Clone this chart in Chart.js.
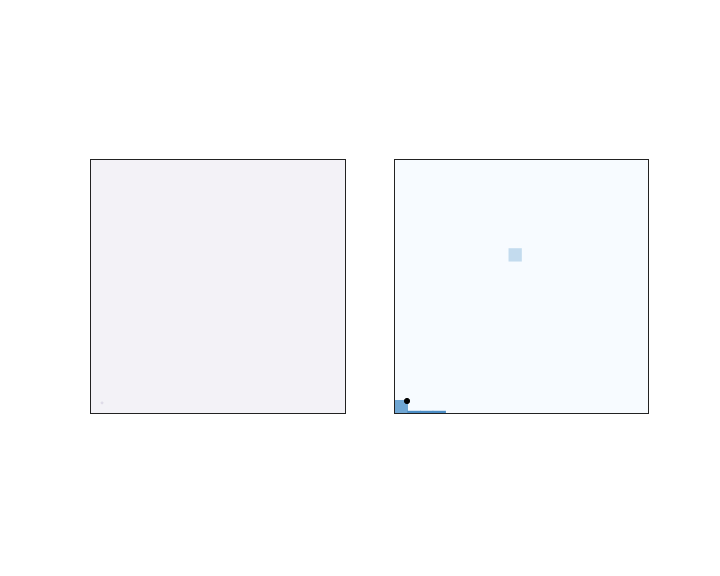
<!DOCTYPE html>
<html>
<head>
<meta charset="utf-8">
<script src="https://cdn.jsdelivr.net/npm/chart.js@4.4.1/dist/chart.umd.min.js"></script>
<style>
  html, body { margin: 0; padding: 0; background: #ffffff; }
  #wrap { position: relative; width: 720px; height: 576px; }
  canvas { position: absolute; left: 0; top: 0; }
</style>
</head>
<body>
<div id="wrap">
  <canvas id="leftChart" width="720" height="576"></canvas>
  <canvas id="rightChart" width="720" height="576"></canvas>
</div>
<script>
// both panels span 0..20 bins on each axis
const binMin = 0;
const binMax = 20;

// right panel: filled cells (column, bottom, top)
const cellColumns = [0, 1, 2, 3, 9];
const cellBottoms = [0, 0, 0, 0, 12];
const cellTops = [1, 0.15, 0.15, 0.15, 13];

// marker points (x, y in bin units)
const rightDotX = [0.95];
const rightDotY = [0.95];
const leftDotX = [0.87];
const leftDotY = [0.8];

const cellShades = ['#6fa6d3', '#4a8cc4', '#4a8cc4', '#4a8cc4', '#c3dbee'];

const panelFrame = {
    id: 'panelFrame',
    beforeDraw(chart, args, opts) {
        const a = chart.chartArea;
        const ctx = chart.ctx;
        ctx.save();
        ctx.fillStyle = opts.fill;
        ctx.fillRect(a.left, a.top, a.right - a.left, a.bottom - a.top);
        ctx.restore();
    },
    afterDraw(chart) {
        const a = chart.chartArea;
        const ctx = chart.ctx;
        ctx.save();
        ctx.strokeStyle = '#222222';
        ctx.lineWidth = 1;
        ctx.strokeRect(a.left - 0.5, a.top - 0.5, a.right - a.left + 1, a.bottom - a.top + 1);
        ctx.restore();
    }
};

function makePanel(id, pad, fill, cols, lows, highs, shades, dotX, dotY, dotColor, dotRadius) {
    const ctx = document.getElementById(id).getContext('2d');
    const datasets = [
        {
            type: 'scatter',
            data: dotX.map((x, i) => ({ x: x, y: dotY[i] })),
            backgroundColor: dotColor,
            borderColor: dotColor,
            pointRadius: dotRadius,
            order: 0
        }
    ];
    if (cols.length) {
        datasets.push({
            type: 'bar',
            data: cols.map((c, i) => ({ x: c + 0.5, y: [lows[i], highs[i]] })),
            backgroundColor: shades,
            borderWidth: 0,
            barPercentage: 1,
            categoryPercentage: 1,
            grouped: false,
            order: 1
        });
    }
    return new Chart(ctx, {
        type: 'scatter',
        data: { datasets: datasets },
        options: {
            responsive: false,
            animation: false,
            layout: { padding: pad },
            plugins: {
                legend: { display: false },
                tooltip: { enabled: false },
                panelFrame: { fill: fill }
            },
            scales: {
                x: { type: 'linear', display: false, offset: false, min: binMin, max: binMax },
                y: { type: 'linear', display: false, min: binMin, max: binMax }
            }
        },
        plugins: [panelFrame]
    });
}

makePanel('leftChart', { left: 91, right: 375, top: 160, bottom: 163 },
    '#f3f2f7', [], [], [], [], leftDotX, leftDotY, '#dedbe8', 1);

makePanel('rightChart', { left: 395, right: 72, top: 160, bottom: 163 },
    '#f7fbff', cellColumns, cellBottoms, cellTops, cellShades, rightDotX, rightDotY, '#000000', 2.6);
</script>
</body>
</html>
